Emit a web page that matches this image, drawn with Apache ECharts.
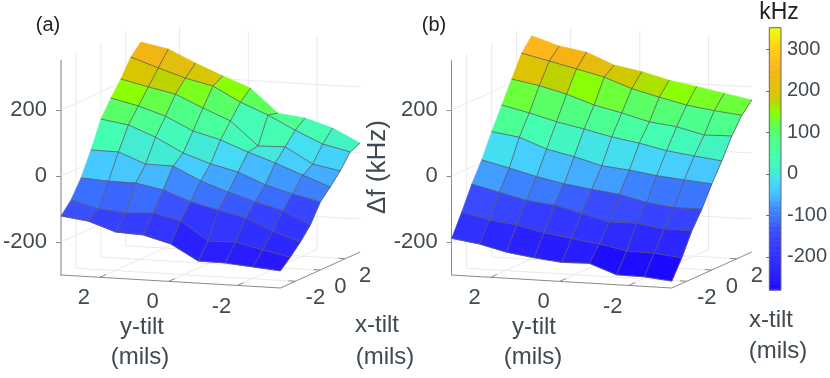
<!DOCTYPE html>
<html>
<head>
<meta charset="utf-8">
<style>
  html, body { margin: 0; padding: 0; background: #fff; }
  #main { width: 830px; height: 378px; }
</style>
<script src="https://cdn.jsdelivr.net/npm/echarts@6/dist/echarts.min.js"></script>
</head>
<body>
<div id="main"></div>
<script>
// mesh positions, mils
const yTilt = [3.13, 2.33, 1.54, 0.74, -0.06, -0.86, -1.65, -2.45, -3.25]
const xTilt = [-3.2, -2.4, -1.6, -0.8, 0, 0.8, 1.6, 2.4, 3.2]

// delta f in kHz, one row per xTilt value, one column per yTilt value
const surfaceA = [
  [-121, -132, -160, -164, -186, -233, -234, -241, -248],
  [-86, -109, -116, -111, -130, -186, -184, -203, -220],
  [-33, -38, -39, -55, -86, -106, -125, -159, -188],
  [38, 37, 5, 4, -36, -65, -90, -112, -150],
  [118, 105, 73, 30, 2, -18, -52, -75, -94],
  [168, 149, 123, 83, 61, 29, 1, -31, -62],
  [212, 193, 176, 139, 105, 34, 36, -11, -27],
  [265, 237, 211, 192, 148, 114, 73, 36, 17],
  [297, 281, 243, 209, 177, 106, 96, 71, 30]
]
const surfaceB = [
  [-189, -201, -221, -233, -242, -240, -270, -271, -279],
  [-123, -142, -152, -171, -183, -195, -211, -213, -222],
  [-52, -72, -92, -101, -121, -142, -141, -153, -154],
  [8, -12, -33, -50, -62, -72, -92, -102, -102],
  [80, 68, 37, 19, -4, -12, -24, -32, -39],
  [147, 128, 106, 89, 70, 56, 38, 27, 17],
  [212, 197, 176, 148, 129, 107, 97, 77, 79],
  [277, 258, 239, 219, 189, 168, 149, 137, 128],
  [316, 290, 276, 242, 227, 206, 192, 176, 161]
]

// tick labels
const zTicks = [-200, 0, 200]
const tiltTicks = [-2, 0, 2]
const barTicks = [-200, -100, 0, 100, 200, 300]

// colormap stops
const colorValues = [-280, -235, -200, -160, -132, -109, -80, -55, -35, -10, 10, 40, 90, 120, 150, 178, 195, 215, 240, 262, 305, 352]
const colorList = ['#1c08ff', '#2a20ff', '#3030ff', '#3640ff', '#3a50ff', '#3a70ff', '#3f90ff', '#44b8ff', '#46ccff', '#44e0f0', '#42f0c8',
  '#44ffb0', '#50ff80', '#60ff50', '#8cff00', '#c0d000', '#dcc400', '#e4be10', '#f4b414', '#ffb820', '#ffd010', '#f0ff10']

const zMin = -300
const zMax = 350
const barMin = -280
const barMax = 352
const textColor = '#3f4a52'
const font = 'Liberation Sans, Arial, sans-serif'

const hex = (c) => [1, 3, 5].map(k => parseInt(c.substr(k, 2), 16))

// value to colour, linear between the stops
const colorOf = (v) => {
  let k = 0
  while (k < colorValues.length - 2 && v > colorValues[k + 1]) k++
  const t = Math.max(0, Math.min(1, (v - colorValues[k]) / (colorValues[k + 1] - colorValues[k])))
  const a = hex(colorList[k])
  const b = hex(colorList[k + 1])
  return 'rgb(' + a.map((n, m) => Math.round(n + (b[m] - n) * t)).join(',') + ')'
}

const yFirst = yTilt[0]
const yLast = yTilt[8]
const xFirst = xTilt[0]
const xLast = xTilt[8]

// oblique view: returns the point on the flat grid (x in px, y in kHz)
const project = (yt, xt, z) => {
  const du = yFirst - yt
  const dv = xt - xFirst
  return [du * 34.5 + dv * 12.5, z - (du * 2.04 - dv * 5.625) * 3.03]
}

const line = (api, a, b, color, width) => {
  const p = api.coord(project(a[0], a[1], a[2]))
  const q = api.coord(project(b[0], b[1], b[2]))
  return {
    type: 'line',
    silent: true,
    shape: { x1: p[0], y1: p[1], x2: q[0], y2: q[1] },
    style: { stroke: color, lineWidth: width }
  }
}

// walls, floor and the two floor axes
const wallSegments = []
const addWall = (a, b, color, width) => wallSegments.push({ a, b, color, width })
zTicks.forEach(z => {
  addWall([yFirst, xFirst, z], [yFirst, xLast, z], '#e9e9e9', 1)
  addWall([yFirst, xLast, z], [yLast, xLast, z], '#e9e9e9', 1)
})
tiltTicks.forEach(t => {
  addWall([yFirst, t, zMin], [yFirst, t, zMax], '#e9e9e9', 1)
  addWall([t, xLast, zMin], [t, xLast, zMax], '#e9e9e9', 1)
  addWall([t, xFirst, zMin], [t, xLast, zMin], '#e9e9e9', 1)
  addWall([yFirst, t, zMin], [yLast, t, zMin], '#e9e9e9', 1)
})
addWall([yFirst, xFirst, zMin], [yLast, xFirst, zMin], '#8a8a8a', 1)
addWall([yLast, xFirst, zMin], [yLast, xLast, zMin], '#8a8a8a', 1)
tiltTicks.forEach(t => {
  addWall([t, xFirst, zMin], [t, xFirst + 0.5, zMin], '#8a8a8a', 1)
  addWall([yLast, t, zMin], [yLast + 0.2, t, zMin], '#8a8a8a', 1)
})

// back rows first so the front rows paint over them
const cells = []
for (let j = 7; j >= 0; j--) {
  for (let i = 0; i < 8; i++) cells.push([i, j])
}

const wallSeries = (gridIndex) => ({
  type: 'custom',
  xAxisIndex: gridIndex,
  yAxisIndex: gridIndex,
  silent: true,
  z: 1,
  data: wallSegments.map((s, k) => [k, 0]),
  renderItem: (params, api) => {
    const s = wallSegments[params.dataIndex]
    return line(api, s.a, s.b, s.color, s.width)
  }
})

const surfaceSeries = (gridIndex, values) => ({
  type: 'custom',
  xAxisIndex: gridIndex,
  yAxisIndex: gridIndex,
  silent: true,
  z: 3,
  data: cells,
  renderItem: (params, api) => {
    const [i, j] = cells[params.dataIndex]
    const at = (m, n) => api.coord(project(yTilt[m], xTilt[n], values[n][m]))
    // flat shading takes the colour from the lower y-tilt corner of the cell
    const fill = colorOf(values[j][i + 1])
    return {
      type: 'polygon',
      shape: { points: [at(i, j), at(i + 1, j), at(i + 1, j + 1), at(i, j + 1)] },
      style: { fill, stroke: fill, lineWidth: 0.6 }
    }
  }
})

// mesh lines go in their own series, otherwise the next cell paints over them.
// front and right edge of each cell only, the back and left rim stay unlined
const meshSeries = (gridIndex, values) => ({
  type: 'custom',
  xAxisIndex: gridIndex,
  yAxisIndex: gridIndex,
  silent: true,
  z: 4,
  data: cells,
  renderItem: (params, api) => {
    const [i, j] = cells[params.dataIndex]
    const at = (m, n) => api.coord(project(yTilt[m], xTilt[n], values[n][m]))
    return {
      type: 'polyline',
      shape: { points: [at(i, j), at(i + 1, j), at(i + 1, j + 1)] },
      style: { fill: 'none', stroke: '#5c5c5c', lineWidth: 0.8 }
    }
  }
})

const tickTexts = [
  ...tiltTicks.map(t => ({ text: String(t), point: [t, xFirst, zMin], dx: -16, dy: 21 })),
  ...tiltTicks.map(t => ({ text: String(t), point: [yLast, t, zMin], dx: 20, dy: 17 }))
]
const tickSeries = (gridIndex) => ({
  type: 'custom',
  xAxisIndex: gridIndex,
  yAxisIndex: gridIndex,
  silent: true,
  z: 4,
  data: tickTexts.map((t, k) => [k, 0]),
  renderItem: (params, api) => {
    const t = tickTexts[params.dataIndex]
    const p = api.coord(project(t.point[0], t.point[1], t.point[2]))
    return {
      type: 'text',
      style: {
        x: p[0] + t.dx,
        y: p[1] + t.dy,
        text: t.text,
        align: 'center',
        verticalAlign: 'middle',
        fill: textColor,
        font: '22px ' + font
      }
    }
  }
})

// colorbar strip
const barLevels = []
for (let v = barMin; v < barMax; v += 4) barLevels.push(v)
const barSeries = {
  type: 'custom',
  xAxisIndex: 2,
  yAxisIndex: 2,
  silent: true,
  data: barLevels.map(v => [0, v]),
  renderItem: (params, api) => {
    const v = api.value(1)
    const a = api.coord([0, v])
    const b = api.coord([1, Math.min(v + 4, barMax)])
    return {
      type: 'rect',
      shape: { x: a[0], y: b[1], width: b[0] - a[0], height: a[1] - b[1] + 0.5 },
      style: { fill: colorOf(v + 2) }
    }
  }
}

const panelAxis = (axisColor, axisWidth) => ({
  type: 'value',
  min: zMin,
  max: zMax,
  axisLine: { show: true, lineStyle: { color: axisColor, width: axisWidth } },
  axisTick: { show: true, length: 5, customValues: zTicks, lineStyle: { color: '#8a8a8a', width: 1 } },
  axisLabel: { customValues: zTicks, margin: 14, fontSize: 22, fontFamily: font, color: textColor },
  splitLine: { show: false }
})
const hiddenX = (max) => ({ type: 'value', show: false, min: 0, max })

const label = (text, x, y, size, fill) => ({
  type: 'text',
  x,
  y,
  silent: true,
  style: { text, fill: fill || textColor, font: size + 'px ' + font, align: 'center', verticalAlign: 'middle' }
})

const option = {
  animation: false,
  grid: [
    { left: 60, top: 60.5, width: 300, height: 214.5 },
    { left: 451.7, top: 60.5, width: 300, height: 214.5 },
    { left: 769.3, top: 27.7, width: 13.4, height: 262.3, show: true, borderColor: '#666', borderWidth: 1, z: 5 }
  ],
  xAxis: [
    { ...hiddenX(300), gridIndex: 0 },
    { ...hiddenX(300), gridIndex: 1 },
    { ...hiddenX(1), gridIndex: 2 }
  ],
  yAxis: [
    { ...panelAxis('#bdbdbd', 2), gridIndex: 0 },
    { ...panelAxis('#8a8a8a', 1), gridIndex: 1 },
    {
      type: 'value',
      gridIndex: 2,
      position: 'right',
      min: barMin,
      max: barMax,
      axisLine: { show: false },
      axisTick: { show: true, inside: true, length: 3, customValues: barTicks, lineStyle: { color: '#666' } },
      axisLabel: { customValues: barTicks, margin: 6, fontSize: 20, fontFamily: font, color: textColor },
      splitLine: { show: false }
    }
  ],
  series: [
    wallSeries(0), surfaceSeries(0, surfaceA), meshSeries(0, surfaceA), tickSeries(0),
    wallSeries(1), surfaceSeries(1, surfaceB), meshSeries(1, surfaceB), tickSeries(1),
    barSeries
  ],
  graphic: [
    label('(a)', 48, 25, 20, '#222'),
    label('(b)', 434, 25, 20, '#222'),
    label('kHz', 779, 13, 23, '#222'),
    label('y-tilt', 142, 327, 24),
    label('(mils)', 140, 357, 24),
    label('x-tilt', 377, 325, 24),
    label('(mils)', 385, 357, 24),
    label('y-tilt', 534, 327, 24),
    label('(mils)', 533, 357, 24),
    label('x-tilt', 771, 320, 24),
    label('(mils)', 778, 351, 24),
    { ...label('\u0394f (kHz)', 378, 167, 26), rotation: Math.PI / 2 }
  ]
}

const myChart = echarts.init(document.getElementById('main'))
myChart.setOption(option)
</script>
</body>
</html>
